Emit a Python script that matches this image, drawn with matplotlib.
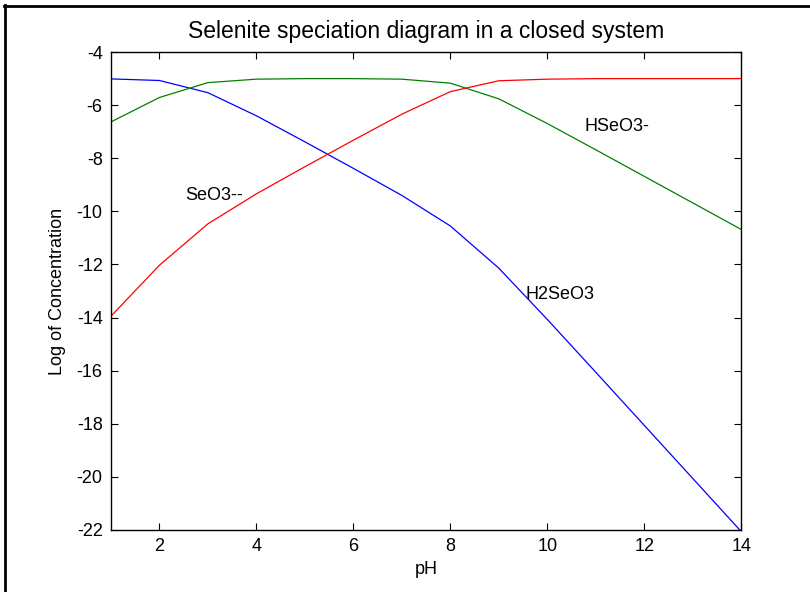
import matplotlib
matplotlib.use("Agg")
import matplotlib.pyplot as plt
from matplotlib.lines import Line2D

plt.rcParams["font.family"] = ["Liberation Sans", "DejaVu Sans"]
plt.rcParams["axes.unicode_minus"] = False

# Data
ph = [1, 2, 3, 4, 5, 6, 7, 8, 9, 10, 11, 12, 13, 14]
h2seo3 = [-5.01, -5.07, -5.53, -6.40, -7.38, -8.38, -9.40, -10.55, -12.14, -14.07, -16.06, -18.06, -20.06, -22.06]
hseo3 = [-6.63, -5.71, -5.15, -5.02, -5.00, -5.00, -5.02, -5.17, -5.76, -6.69, -7.68, -8.68, -9.68, -10.68]
seo3 = [-13.95, -12.03, -10.47, -9.34, -8.32, -7.32, -6.34, -5.49, -5.08, -5.02, -5.00, -5.00, -5.00, -5.00]

labels = ["H2SeO3", "HSeO3-", "SeO3--"]
label_pos = [(9.55, -13.15), (10.76, -6.8), (2.53, -9.4)]

fig = plt.figure(figsize=(8.1, 5.92), dpi=100)
ax = fig.add_axes([0.137, 0.105, 0.778, 0.807])

ax.plot(ph, h2seo3, color="blue", lw=0.9)
ax.plot(ph, hseo3, color="green", lw=0.9)
ax.plot(ph, seo3, color="red", lw=0.9)

for txt, (x, y) in zip(labels, label_pos):
    ax.text(x, y, txt, ha="left", va="center", fontsize=13)

ax.set_xlim(1, 14)
ax.set_ylim(-22, -4)
ax.set_xticks([2, 4, 6, 8, 10, 12, 14])
ax.set_yticks(range(-22, -3, 2))
ax.tick_params(direction="in", top=True, right=True, labelsize=13, length=5, pad=6)
for s in ax.spines.values():
    s.set_linewidth(1.0)

ax.set_xlabel("pH", fontsize=13, labelpad=4)
ax.set_ylabel("Log of Concentration", fontsize=13, labelpad=8)
ax.set_title("Selenite speciation diagram in a closed system", fontsize=16.5, pad=10)

# screenshot border on top and left
fig.add_artist(Line2D([4 / 810, 1], [1 - 5.5 / 592, 1 - 5.5 / 592],
                      transform=fig.transFigure, color="black", lw=2))
fig.add_artist(Line2D([4.5 / 810, 4.5 / 810], [0, 1 - 5 / 592],
                      transform=fig.transFigure, color="black", lw=2))

fig.savefig("out.png", dpi=100)
